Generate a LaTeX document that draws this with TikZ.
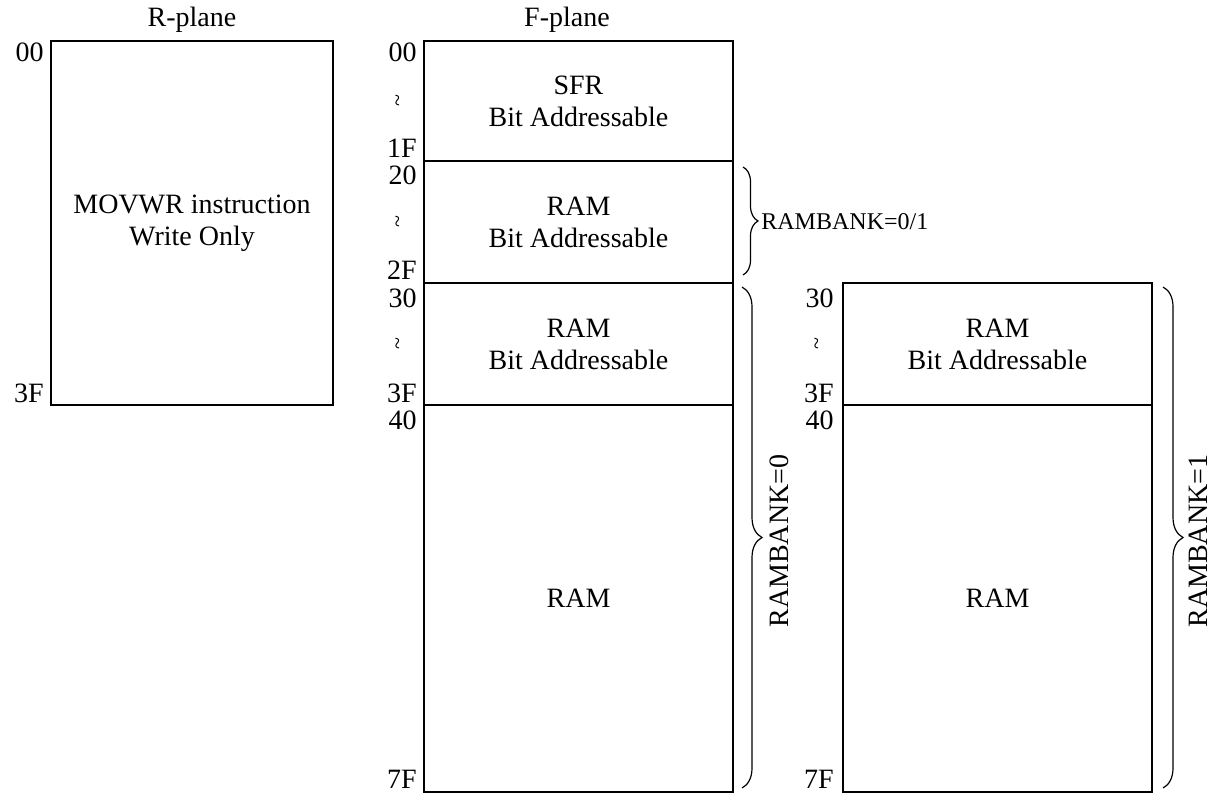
\documentclass[tikz,border=0pt]{standalone}
\usepackage{fontspec}
\setmainfont{Liberation Serif}
\usetikzlibrary{positioning,calc,decorations.pathreplacing}
\tikzset{
	x=0.5pt, y=-0.5pt, % one unit is one pixel of the layout, y grows downwards
	block/.style = {rectangle, draw, line width=0.75pt, outer sep=0pt, inner sep=0pt, minimum width=154.5pt, align=center, font=\fontsize{14}{16}\selectfont},
	addr/.style = {inner sep=0pt, font=\fontsize{14}{16}\selectfont},
	wave/.style = {rotate=90, inner sep=0pt, font=\fontsize{11}{12}\selectfont},
	bank/.style = {decorate, decoration={brace, amplitude=10pt}, line width=0.6pt},
	banklabel/.style = {inner sep=0pt, font=\fontsize{14}{16}\selectfont, rotate=90}
}

\begin{document}
\begin{tikzpicture}
            \useasboundingbox (0,0) rectangle (1214,796);
            % R-plane
            \node[block, minimum width=141pt, minimum height=182pt] (movwr) at (192,223) {MOVWR instruction\\Write Only};
            \node[addr, anchor=base] (rtitle) at (192,27) {R-plane};
            \node[addr, anchor=base east] (r00) at ($(movwr.north west)+(-7,21)$) {00};
            \node[addr, anchor=base east] (r3F) at ($(movwr.south west)+(-7,-3)$) {3F};
            % F-plane
            \node[block, minimum height=60pt] (sfr) at (578.5,101) {SFR\\Bit Addressable};
            \node[block, minimum height=61pt, below=0pt of sfr] (ram20) {RAM\\Bit Addressable};
            \node[block, minimum height=61pt, below=0pt of ram20] (ram30) {RAM\\Bit Addressable};
            \node[block, minimum height=193.5pt, below=0pt of ram30] (ram40) {RAM};
            \node[addr, anchor=base] (ftitle) at (567,27) {F-plane};
            \node[addr, anchor=base east] (f00) at ($(sfr.north west)+(-7,21)$) {00};
            \node[wave] (fw1) at ($(sfr.west)+(-24,0)$) {\textasciitilde};
            \node[addr, anchor=base east] (f1F) at ($(sfr.south west)+(-7,-3)$) {1F};
            \node[addr, anchor=base east] (f20) at ($(ram20.north west)+(-7,24)$) {20};
            \node[wave] (fw2) at ($(ram20.west)+(-24,0)$) {\textasciitilde};
            \node[addr, anchor=base east] (f2F) at ($(ram20.south west)+(-7,-3)$) {2F};
            \node[addr, anchor=base east] (f30) at ($(ram30.north west)+(-7,24)$) {30};
            \node[wave] (fw3) at ($(ram30.west)+(-24,0)$) {\textasciitilde};
            \node[addr, anchor=base east] (f3F) at ($(ram30.south west)+(-7,-3)$) {3F};
            \node[addr, anchor=base east] (f40) at ($(ram40.north west)+(-7,24)$) {40};
            \node[addr, anchor=base east] (f7F) at ($(ram40.south west)+(-7,-4)$) {7F};
            % second bank
            \node[block, minimum height=61pt] (bram30) at (997.5,344) {RAM\\Bit Addressable};
            \node[block, minimum height=193.5pt, below=0pt of bram30] (bram40) {RAM};
            \node[addr, anchor=base east] (b30) at ($(bram30.north west)+(-9,24)$) {30};
            \node[wave] (bw3) at ($(bram30.west)+(-24,0)$) {\textasciitilde};
            \node[addr, anchor=base east] (b3F) at ($(bram30.south west)+(-9,-3)$) {3F};
            \node[addr, anchor=base east] (b40) at ($(bram40.north west)+(-9,24)$) {40};
            \node[addr, anchor=base east] (b7F) at ($(bram40.south west)+(-9,-4)$) {7F};
            % braces
            \coordinate (k1top) at ($(ram20.north east)+(10,6)$);
            \coordinate (k1bot) at ($(ram20.south east)+(10,-8)$);
            \coordinate (k2top) at ($(ram30.north east)+(9,4)$);
            \coordinate (k2bot) at ($(ram40.south east)+(9,-4)$);
            \coordinate (k3top) at ($(bram30.north east)+(11,4)$);
            \coordinate (k3bot) at ($(bram40.south east)+(11,-4)$);
            \draw[bank, decoration={amplitude=7.5pt}] (k1top) -- (k1bot);
            \draw[bank] (k2top) -- (k2bot);
            \draw[bank] (k3top) -- (k3bot);
            \node[inner sep=0pt, anchor=base west, font=\fontsize{12}{14}\selectfont] (k1label) at (761,230) {RAMBANK=0/1};
            \node[banklabel] (k2label) at (779,541) {RAMBANK=0};
            \node[banklabel] (k3label) at (1198,541) {RAMBANK=1};
\end{tikzpicture}
\end{document}
